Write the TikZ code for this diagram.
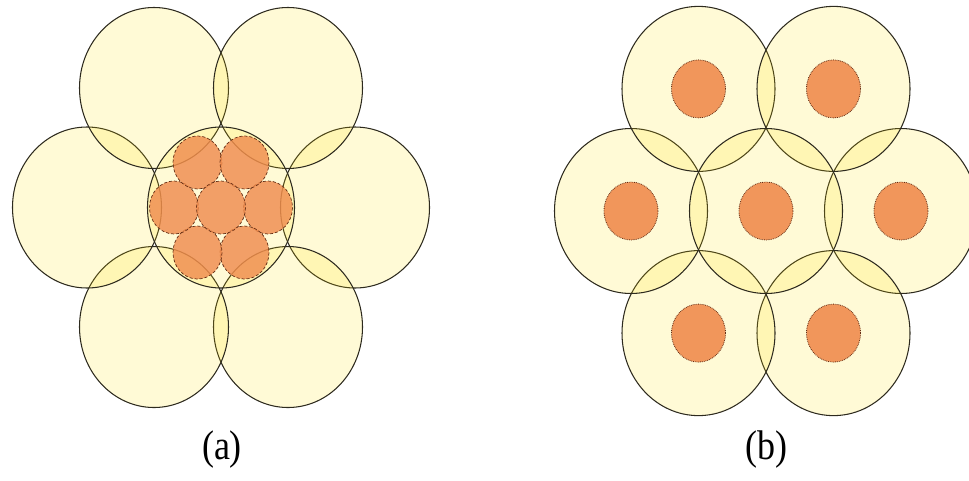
\documentclass[tikz,border=0pt]{standalone}
\usepackage{fontspec}
\newfontfamily\labfont{Liberation Serif}
\usetikzlibrary{calc}
\definecolor{cellfill}{RGB}{255,223,0}
\definecolor{corefill}{RGB}{240,140,78}
\definecolor{rimline}{RGB}{45,42,30}
\definecolor{coreline}{RGB}{100,45,20}
\tikzset{
  cell/.style ={draw=rimline,line width=1.05pt,fill=cellfill,fill opacity=0.16},
  core/.style ={draw=coreline,densely dashed,line width=0.7pt,fill=corefill,fill opacity=0.82},
  spot/.style ={draw=coreline,densely dotted,line width=0.8pt,fill=corefill,fill opacity=0.9},
  lab/.style  ={font=\labfont\fontsize{36}{40}\selectfont,yscale=1.15,inner sep=0pt},
}

\begin{document}
\begin{tikzpicture}[x=1pt,y=-1pt]
  \useasboundingbox (0,0) rectangle (969,480);
  % (a) seven small cores inside the central cell
  \coordinate (ca) at (221,207.5);
  \foreach \a in {0,60,...,300}
    \path[cell] ($(ca)+(\a:134 and 138)$) ellipse [x radius=74.5,y radius=80.5];
  \path[cell] (ca) ellipse [x radius=73.5,y radius=80.5];
  \foreach \a in {0,60,...,300}
    \path[core] ($(ca)+(\a:47 and 52)$) ellipse [x radius=24.5,y radius=26.5];
  \path[core] (ca) ellipse [x radius=24.5,y radius=26.5];
  % (b) one core per cell
  \coordinate (cb) at (766,211);
  \foreach \a in {0,60,...,300}
    \path[cell] ($(cb)+(\a:135 and 141)$) ellipse [x radius=76.5,y radius=82.5];
  \path[cell] (cb) ellipse [x radius=76.5,y radius=82.5];
  \foreach \a in {0,60,...,300}
    \path[spot] ($(cb)+(\a:135 and 141)$) ellipse [x radius=27,y radius=29];
  \path[spot] (cb) ellipse [x radius=27,y radius=29];
  \node[lab] (la) at (222,450) {(a)};
  \node[lab] (lb) at (766,450) {(b)};
\end{tikzpicture}
\end{document}
